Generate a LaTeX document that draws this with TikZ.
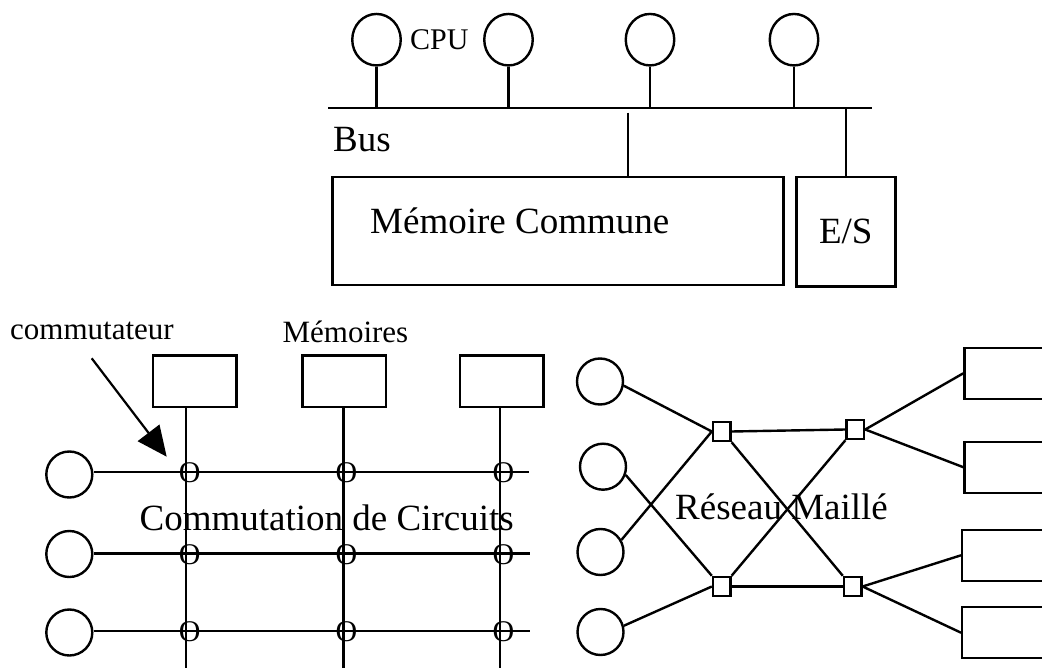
\documentclass[tikz,border=0pt]{standalone}
\usepackage{fontspec}
\setmainfont{Liberation Serif}
\usetikzlibrary{arrows.meta,shapes.geometric}

\tikzset{
  wire/.style={line width=2.4pt},
  proc/.style={draw, line width=2.4pt, circle, minimum size=46pt, inner sep=0pt},
  cpu/.style={draw, line width=2.4pt, ellipse, minimum width=48.5pt, minimum height=51.5pt, inner sep=0pt},
  box/.style={draw, line width=2.4pt, rectangle, inner sep=0pt},
  membox/.style={box, minimum width=83.6pt, minimum height=51.6pt},
  outbox/.style={box, minimum width=120pt, minimum height=51pt},
  sw/.style={draw, line width=2.2pt, rectangle, minimum width=17.6pt, minimum height=19.3pt, inner sep=0pt},
  big/.style={font=\fontsize{37}{40}\selectfont, inner sep=0pt},
  small/.style={font=\fontsize{31}{34}\selectfont, inner sep=0pt},
  xing/.style={font=\fontsize{30}{32}\selectfont, inner sep=0pt},
}

\begin{document}
\begin{tikzpicture}[x=1pt,y=-1pt]
\useasboundingbox (0,0) rectangle (1042,668);
\clip (0,0) rectangle (1042,668);

% ---------------- shared-bus machine ----------------
\coordinate (busL) at (328,108);
\coordinate (busR) at (872,108);
\draw[wire] (busL) -- (busR);

\node[cpu] (cpu1) at (376.5,39.7) {};
\node[cpu] (cpu2) at (508.5,39.7) {};
\node[cpu] (cpu3) at (650,39.7) {};
\node[cpu] (cpu4) at (794,39.7) {};
\foreach \c in {cpu1,cpu2,cpu3,cpu4}
  \draw[wire] (\c.south) -- (\c.south |- busL);

\node[font=\fontsize{30}{32}\selectfont, inner sep=0pt, anchor=base west] (cpulbl) at (410,50) {CPU};
\node[big, anchor=base west] (buslbl) at (333,151.7) {Bus};

\node[box, minimum width=451pt, minimum height=108pt] (mem) at (557.8,231) {};
\node[big, anchor=base west] (memlbl) at (370,233.3) {Mémoire Commune};
\coordinate (memtap) at (628,112.7);
\draw[wire] (memtap) -- (memtap |- mem.north);

\node[box, big, minimum width=99pt, minimum height=109.5pt] (es) at (845.8,231.7) {E/S};
\draw[wire] (es.north |- busL) -- (es.north);

% ---------------- crossbar ----------------
\node[small, anchor=base west] (comlbl) at (10,340) {commutateur};
\node[small, anchor=base west] (memslbl) at (282.4,342.4) {Mémoires};

\node[membox] (m1) at (194.8,381.3) {};
\node[membox] (m2) at (344.3,381.3) {};
\node[membox] (m3) at (501.5,381.3) {};

\coordinate (bA) at (186,668);
\coordinate (bB) at (343.3,668);
\coordinate (bC) at (500,668);
\draw[wire] (bA |- m1.south) -- (bA);
\draw[wire] (bB |- m2.south) -- (bB);
\draw[wire] (bC |- m3.south) -- (bC);

\node[proc] (p1) at (69.3,474.5) {};
\node[proc] (p2) at (69.3,554) {};
\node[proc] (p3) at (69.3,632.5) {};

\coordinate (e1) at (529,471.7);
\coordinate (e2) at (530,553.3);
\coordinate (e3) at (530,631);
\draw[wire] (p1.east |- e1) -- (e1);
\draw[wire] (p2.east |- e2) -- (e2);
\draw[wire] (p3.east |- e3) -- (e3);

\foreach \r/\y in {1/472.7,2/554.3,3/632}
  \foreach \c/\x in {1/189.7,2/346.5,3/503.5}
    \node[xing] (o\r\c) at (\x,\y) {O};

\coordinate (arrtail) at (91.7,358.3);
\coordinate (arrtip) at (166.7,456.7);
\draw[line width=2.2pt, -{Triangle[length=30pt,width=27pt]}] (arrtail) -- (arrtip);

\node[big, anchor=base west] (cclbl) at (139.5,530) {Commutation de Circuits};

% ---------------- mesh network ----------------
\node[proc] (q1) at (600,381.5) {};
\node[proc] (q2) at (603,466.7) {};
\node[proc] (q3) at (600.5,552) {};
\node[proc] (q4) at (600.5,632) {};

\node[sw] (s1) at (721.7,431.5) {};
\node[sw] (s2) at (855.3,429.5) {};
\node[sw] (s3) at (721.7,586.5) {};
\node[sw] (s4) at (852.7,586.5) {};

\node[outbox] (r1) at (1024.5,373.3) {};
\node[outbox] (r2) at (1024.5,467.2) {};
\node[outbox] (r3) at (1022.2,555.3) {};
\node[outbox] (r4) at (1022.2,632.7) {};

\draw[wire] (q1.-10) -- (s1.west);
\draw[wire] (q2.-20) -- (s3.north west);
\draw[wire] (q3.30) -- (s1.west);
\draw[wire] (q4.15) -- (s3.west);

\draw[wire] (s1.east) -- (s2.west);
\draw[wire] (s3.east) -- (s4.west);
\draw[wire] (s1.south east) -- (s4.north west);
\draw[wire] (s3.north east) -- (s2.south west);

\draw[wire] (s2.east) -- (r1.west);
\draw[wire] (s2.east) -- (r2.west);
\draw[wire] (s4.east) -- (r3.west);
\draw[wire] (s4.east) -- (r4.west);

\node[big, anchor=base west] (mlbl) at (675,519.3) {Réseau Maillé};
\end{tikzpicture}
\end{document}
